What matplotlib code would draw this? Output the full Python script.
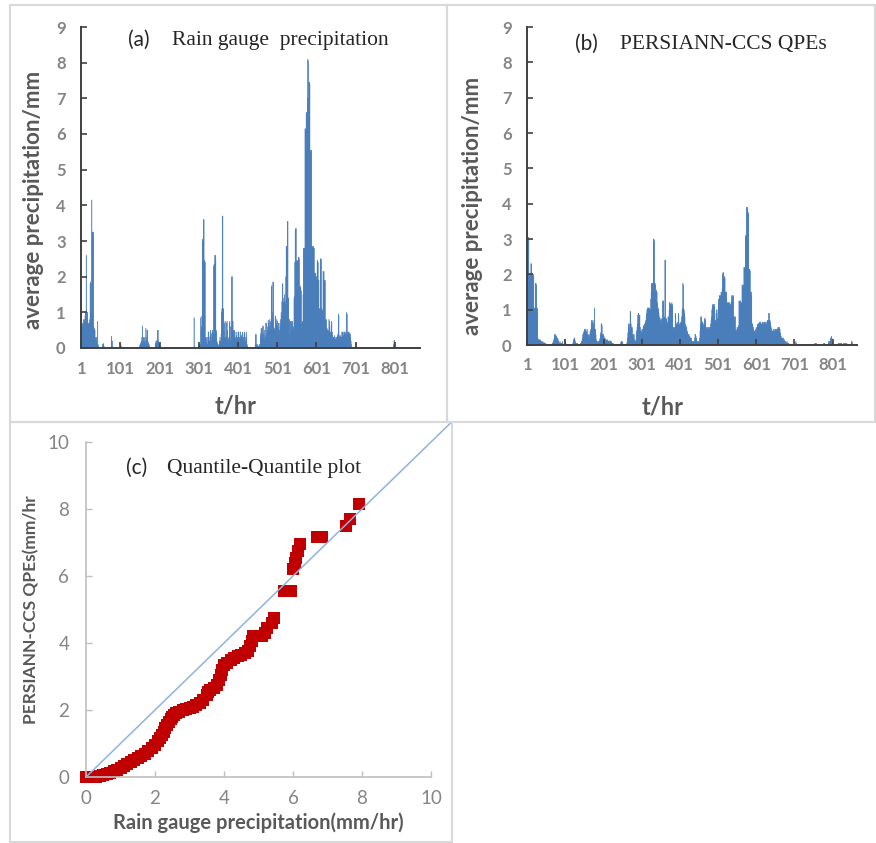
import numpy as np
import matplotlib.pyplot as plt
from matplotlib.patches import Rectangle

W, H = 876, 843
n_hours = 865
hour_ticks = [1, 101, 201, 301, 401, 501, 601, 701, 801]

# rain gauge hourly precipitation: (first hour, hourly values)
gauge_bands = [
    (1, [1.85, 1.8, 0.6, 0.65, 0.7, 0.6, 0.8, 0.75, 0.7, 0.8, 0.9, 1.0,
         1.0, 2.6, 1.0, 0.95, 1.0, 0.7, 0.65, 0.7, 0.65, 0.7, 0.8,
         1.8, 1.85, 1.8, 1.0, 4.15, 3.25, 3.25, 3.2, 3.25,
         0.6, 0.5, 0.55, 0.5, 0.3, 0.25, 0.2, 0.3, 0.2, 0.1, 0.75, 0.1, 0.05]),
    (55, [0.05, 0.1, 0.12, 0.12, 0.05]),
    (78, [0.33, 0.2, 0.2, 0.05]),
    (101, [0.1, 0.12, 0.05]),
    (150, [0.05, 0.1, 0.1, 0.15, 0.1, 0.2, 0.3, 0.62, 0.15, 0.1, 0.3, 0.2, 0.15,
           0.3, 0.2, 0.1, 0.55, 0.3, 0.2, 0.5, 0.5, 0.2, 0.15, 0.1, 0.1, 0.05]),
    (190, [0.1, 0.15, 0.2, 0.15, 0.2, 0.25, 0.5, 0.5, 0.2, 0.15, 0.1, 0.1, 0.05]),
    (289, [0.85]),
    (300, [0.05, 0.1, 0.1, 0.05, 0.1, 0.1, 0.85, 0.5, 0.6, 0.9]),
    (310, [3.0, 3.05, 3.0, 3.6, 3.6, 2.45, 2.45, 2.4, 0.3, 0.2]),
    (320, [0.3, 0.15, 0.1, 0.1, 0.3, 0.45, 0.45, 0.3, 0.2, 0.15]),
    (330, [0.35, 0.5, 0.3, 0.2, 0.4, 0.45, 0.5, 0.3, 0.4, 2.3]),
    (340, [2.35, 2.35, 2.6, 2.6, 2.5, 0.5, 0.45, 0.2, 0.15, 0.1]),
    (350, [0.05, 0.05, 0.1, 0.1, 0.2, 0.3, 0.2, 0.1, 0.4, 1.0]),
    (360, [1.1, 3.7, 3.7, 1.1, 1.1, 0.5, 0.3, 0.7, 0.75, 0.3]),
    (370, [0.25, 0.3, 0.7, 0.75, 0.5, 0.3, 0.25, 0.2, 0.3, 0.7]),
    (380, [0.75, 0.6, 0.2, 0.3, 0.6, 2.0, 2.0, 0.75, 0.75, 0.5]),
    (390, [0.45, 0.3, 0.5, 0.45, 0.25, 0.3, 0.25, 0.35, 0.45, 0.3]),
    (400, [0.25, 0.3, 0.45, 0.45, 0.3, 0.2, 0.3, 0.45, 0.25, 0.3, 0.35]),
    (411, [0.3, 0.45, 0.4, 0.3, 0.2, 0.3, 0.45, 0.4, 0.3, 0.2, 0.1, 0.45, 0.3, 0.1, 0.05]),
    (445, [0.1, 0.38, 0.38, 0.1, 0.05, 0.05, 0.1, 0.05, 0.05, 0.05]),
    (455, [0.1, 0.05, 0.1, 0.3, 0.4, 0.55, 0.55, 0.4, 0.3, 0.6]),
    (465, [0.62, 0.4, 0.3, 0.2, 0.5, 0.35, 0.3, 0.7, 0.7, 0.4]),
    (475, [0.3, 0.5, 0.6, 0.78, 0.7, 0.5, 0.6, 0.8, 0.75, 0.5]),
    (485, [0.7, 1.7, 1.75, 1.0, 0.8, 1.85, 1.85, 0.6, 0.5, 0.55]),
    (495, [0.4, 0.9, 0.88, 0.6, 0.7, 0.8, 0.75, 0.6, 0.4, 0.7]),
    (505, [0.6, 0.3, 0.5, 0.7, 0.6, 0.8, 1.0, 0.9, 1.3, 1.8]),
    (515, [1.8, 1.3, 1.25, 1.4, 1.3, 1.5, 1.3, 1.2, 2.0, 2.85]),
    (525, [2.85, 2.8, 3.55, 3.55, 1.4, 1.4, 0.75, 0.8, 0.4, 0.3]),
    (535, [0.75, 0.7, 0.75, 0.5, 0.6, 0.75, 0.55, 0.5, 0.6, 1.4]),
    (545, [1.45, 2.4, 3.3, 3.35, 3.35, 2.45, 2.4, 2.45, 2.45, 2.4]),
    (555, [2.55, 2.55, 2.5, 1.7, 1.75, 1.7, 1.7, 1.6, 0.7, 0.7]),
    (565, [0.75, 0.7, 1.5, 2.8, 2.75, 2.8, 2.8, 6.15, 6.1, 6.15]),
    (575, [6.6, 6.6, 6.55, 7.0, 8.1, 8.05, 7.0, 7.45, 7.45, 7.4]),
    (585, [5.55, 5.5, 5.5, 5.55, 2.85, 2.85, 2.8, 2.85, 2.85, 2.8]),
    (595, [2.8, 2.1, 2.1, 2.05, 2.1, 2.0, 1.9, 2.0, 2.45, 2.45]),
    (605, [2.4, 1.9, 1.9, 1.1, 1.1, 1.05, 2.5, 2.45, 2.5, 1.1]),
    (615, [1.1, 1.05, 1.0, 2.15, 2.1, 2.15, 1.9, 1.85, 1.9, 0.8]),
    (625, [0.75, 0.8, 0.55, 0.55, 0.5, 0.45, 0.5, 0.45, 0.8, 0.75]),
    (635, [0.6, 0.45, 0.4, 0.45, 0.75, 0.7, 0.45, 0.35, 0.3, 0.3]),
    (645, [0.25, 0.3, 0.35, 0.3, 0.25, 0.2, 0.3, 0.25, 0.3, 0.35]),
    (655, [0.3, 0.4, 0.95, 0.9, 0.35, 0.3, 0.3, 0.35, 0.3, 0.3]),
    (665, [0.3, 0.45, 0.45, 0.4, 0.3, 0.35, 0.45, 0.45, 0.4, 0.45]),
    (675, [0.4, 0.3, 0.35, 1.0, 0.95, 0.45, 0.4, 0.45, 0.4, 0.45]),
    (685, [0.4, 0.35, 0.4, 0.3, 0.2, 0.1]),
    (701, [0.1, 0.15, 0.05]),
    (798, [0.1, 0.2, 0.22, 0.1]),
]

# PERSIANN-CCS hourly estimates: (first hour, hourly values)
persiann_bands = [
    (1, [1.0, 2.0, 2.0, 3.05, 3.0, 2.0, 2.0, 1.95, 2.0, 2.0]),
    (11, [2.3, 2.3, 2.0, 2.0, 1.95, 2.0, 2.0, 1.95, 1.0, 1.05]),
    (21, [1.0, 1.05, 1.75, 1.75, 1.7, 1.05, 1.05, 1.0, 0.2, 0.15]),
    (31, [0.15, 0.15, 0.12, 0.15, 0.15, 0.1, 0.12, 0.1, 0.1, 0.08]),
    (41, [0.08, 0.1, 0.05, 0.05, 0.08, 0.05, 0.05, 0.03, 0.05, 0.03, 0.02, 0.02]),
    (65, [0.02, 0.03, 0.05, 0.05, 0.1, 0.1, 0.15, 0.2, 0.3, 0.28, 0.25, 0.3, 0.2, 0.25,
          0.2, 0.15, 0.2, 0.15, 0.1, 0.1, 0.05, 0.05, 0.1, 0.05, 0.03, 0.05, 0.03,
          0.05, 0.1, 0.05, 0.03]),
    (100, [0.15, 0.1, 0.05, 0.03]),
    (120, [0.03, 0.05, 0.1, 0.15, 0.2, 0.2, 0.15, 0.1, 0.05, 0.05, 0.03, 0.05, 0.05,
           0.03, 0.02, 0.02]),
    (140, [0.03, 0.05, 0.05, 0.1, 0.1, 0.15, 0.2, 0.3, 0.35, 0.3]),
    (150, [0.4, 0.45, 0.4, 0.45, 0.4, 0.3, 0.35, 0.4, 0.45, 0.3]),
    (160, [0.25, 0.2, 0.3, 0.25, 0.2, 0.3, 0.4, 0.35, 0.45, 0.6]),
    (170, [0.7, 0.7, 0.65, 0.5, 0.45, 0.6, 0.7, 1.05, 0.45, 0.4]),
    (180, [0.45, 0.3, 0.15, 0.1, 0.1, 0.05, 0.1, 0.05, 0.1, 0.1]),
    (190, [0.15, 0.1, 0.2, 0.3, 0.35, 0.6, 0.6, 0.55, 0.3, 0.25]),
    (200, [0.3, 0.3, 0.25, 0.2, 0.15, 0.2, 0.1, 0.15, 0.1, 0.15]),
    (210, [0.12, 0.15, 0.1, 0.1, 0.12, 0.1, 0.08, 0.1, 0.12, 0.1]),
    (220, [0.1, 0.08, 0.1, 0.05, 0.05, 0.03, 0.05, 0.03, 0.02, 0.02, 0.02]),
    (245, [0.03, 0.05, 0.1, 0.1, 0.08, 0.1, 0.05, 0.03]),
    (262, [0.05, 0.1, 0.2, 0.35, 0.5, 0.6, 0.6, 0.4, 0.55]),
    (271, [0.95, 0.95, 0.6, 0.5, 0.45, 0.5, 0.3, 0.25, 0.3, 0.2]),
    (281, [0.3, 0.15, 0.1, 0.1, 0.1, 0.15, 0.3, 0.4]),
    (289, [0.5, 0.6, 0.85, 0.9, 0.9, 0.85, 0.8, 0.85, 0.5]),
    (298, [0.4, 0.3, 0.35, 0.4, 0.45, 0.4, 0.45, 0.5, 0.55, 0.5, 0.6, 0.55, 0.6]),
    (311, [0.65, 0.7, 0.8, 0.9, 1.0, 1.05, 1.0, 1.0, 1.05]),
    (320, [1.05, 1.0, 1.05, 1.0, 1.0, 1.3, 1.5, 1.75, 1.7, 1.75]),
    (330, [1.75, 1.7, 3.0, 3.0, 2.95, 1.75]),
    (336, [1.75, 1.7, 1.55, 1.5, 1.55, 1.5, 1.2, 1.0, 1.05, 1.0]),
    (346, [0.9, 0.75, 0.8, 0.75, 0.7, 0.7, 0.75, 0.6, 0.7, 0.75]),
    (356, [1.25, 1.2, 1.25, 0.7, 0.75, 0.8]),
    (362, [2.4, 2.4, 0.75, 0.7, 0.75]),
    (367, [0.6, 0.65, 0.6, 0.8, 0.8, 0.75, 1.0, 1.2, 1.2, 1.15]),
    (377, [1.15, 1.1, 1.15, 1.2, 1.15, 1.1, 0.5, 0.5, 0.45, 0.5]),
    (387, [0.45, 0.5, 0.9, 0.85, 0.6, 0.55, 0.6, 0.65, 0.55, 0.6]),
    (397, [0.9, 0.85, 0.6, 0.55, 0.6, 0.65, 0.6, 0.55, 0.65, 0.8]),
    (407, [1.0, 1.05, 1.75, 1.7, 1.0, 1.0, 0.9, 0.8, 0.6, 0.5]),
    (417, [0.55, 0.45, 0.5, 0.4, 0.35, 0.3, 0.3, 0.25, 0.3, 0.2]),
    (427, [0.25, 0.2, 0.2, 0.15, 0.2, 0.15, 0.1, 0.1, 0.05, 0.1]),
    (437, [0.1, 0.05, 0.1, 0.2, 0.3, 0.3, 0.25, 0.2, 0.15, 0.1]),
    (447, [0.1, 0.05, 0.1, 0.1, 0.05, 0.1, 0.2, 0.4, 0.6, 0.8]),
    (457, [0.8, 0.75, 0.6, 0.65, 0.65, 0.6, 0.5, 0.55, 0.6, 0.75]),
    (467, [0.75, 0.7, 0.5, 0.45, 0.5, 0.45, 0.4, 0.5, 0.5, 0.45]),
    (477, [0.5, 0.45, 0.5, 0.45, 0.5, 0.6, 0.7, 0.8, 1.0, 1.1]),
    (487, [1.15, 1.1, 1.15, 1.1, 1.15, 1.1, 0.7, 0.65, 0.7, 0.9]),
    (497, [1.0, 0.9, 0.7, 0.75, 1.0]),
    (502, [1.3, 1.25, 1.3, 1.4, 1.4, 1.35, 1.4, 1.5, 1.45]),
    (511, [1.5, 1.6, 2.0, 2.05, 2.05, 1.9, 1.95, 1.9]),
    (519, [1.9, 1.5, 1.5, 1.45, 1.5, 1.2, 1.15, 1.2]),
    (527, [1.2, 1.15, 1.2, 1.2, 1.15, 1.2, 1.15, 1.1, 1.15, 1.2]),
    (537, [1.4, 1.35, 1.4, 1.35, 1.4, 0.8, 0.8, 0.75, 0.8, 0.8]),
    (547, [0.4, 0.45, 0.4, 0.4, 0.5, 0.45, 0.5, 0.5, 0.55]),
    (556, [1.25, 1.2, 1.25, 1.2, 1.25, 1.2, 1.15, 1.2, 1.7, 1.65]),
    (566, [1.7, 1.7, 1.65, 2.2, 2.15, 2.2, 2.2, 3.1, 3.05]),
    (575, [3.1, 3.9, 3.85, 3.9, 3.75, 3.75, 3.7, 2.15, 2.1, 2.15]),
    (585, [2.1, 1.5, 1.45, 1.5, 1.4, 0.6]),
    (591, [0.6, 0.55, 0.5, 0.45, 0.4, 0.35, 0.4, 0.35, 0.4, 0.45]),
    (601, [0.5, 0.45, 0.5, 0.55, 0.6, 0.55, 0.6, 0.6, 0.65, 0.6]),
    (611, [0.65, 0.6, 0.65, 0.6, 0.55, 0.6, 0.65, 0.6, 0.55, 0.6]),
    (621, [0.65, 0.6, 0.65, 0.6, 0.65, 0.6, 0.55, 0.6, 0.65, 0.7]),
    (631, [0.7, 0.65, 0.7, 0.9, 0.9, 0.7, 0.7, 0.65, 0.6, 0.5]),
    (641, [0.45, 0.4, 0.4, 0.35, 0.4, 0.45, 0.4, 0.35, 0.4, 0.45]),
    (651, [0.45, 0.4, 0.45, 0.4, 0.45, 0.4, 0.45, 0.5, 0.45, 0.5]),
    (661, [0.45, 0.5, 0.45, 0.35, 0.3, 0.25, 0.2, 0.2, 0.15, 0.2]),
    (671, [0.15, 0.2, 0.15, 0.1, 0.15, 0.1, 0.1, 0.05, 0.1, 0.05]),
    (681, [0.05, 0.1, 0.05, 0.05, 0.03, 0.05, 0.03, 0.02, 0.03, 0.02]),
    (704, [0.05, 0.1, 0.05]),
    (755, [0.05, 0.03, 0.05, 0.05, 0.03]),
    (778, [0.05, 0.03, 0.05, 0.03]),
    (790, [0.05, 0.1, 0.1, 0.05, 0.1, 0.15, 0.2, 0.15, 0.25, 0.2, 0.1, 0.05, 0.05]),
    (815, [0.03, 0.05, 0.03, 0.03, 0.05, 0.03, 0.05, 0.05, 0.03, 0.05, 0.03, 0.03]),
    (830, [0.05, 0.03, 0.03, 0.05, 0.03, 0.05, 0.03, 0.03, 0.05, 0.03]),
    (850, [0.05, 0.1, 0.1, 0.05]),
]

# quantile-quantile pairs (mm/hr)
qq_gauge = [0, 0.1, 0.2, 0.3, 0.4, 0.5, 0.6, 0.7, 0.8, 0.9,
            1.0, 1.1, 1.2, 1.3, 1.4, 1.5, 1.6, 1.7, 1.8, 1.9,
            2.0, 2.1, 2.15, 2.2, 2.25, 2.3, 2.35, 2.4, 2.45, 2.5,
            2.55, 2.6, 2.7, 2.8, 2.9, 3.0, 3.1, 3.2, 3.3, 3.4,
            3.5, 3.55, 3.6, 3.7, 3.8, 3.85, 3.9, 3.95, 4.0, 4.1,
            4.2, 4.3, 4.4, 4.5, 4.6, 4.7, 4.75, 4.8, 4.85, 5.1,
            5.2, 5.25, 5.4, 5.45, 5.75, 5.95, 6.0, 6.05, 6.1, 6.15,
            6.2, 6.7, 6.85, 7.55, 7.65, 7.9]
qq_persiann = [0, 0, 0, 0.01, 0.03, 0.05, 0.08, 0.12, 0.17, 0.22,
               0.28, 0.34, 0.4, 0.46, 0.52, 0.58, 0.64, 0.7, 0.78, 0.86,
               0.95, 1.08, 1.15, 1.25, 1.35, 1.45, 1.55, 1.65, 1.72, 1.8,
               1.85, 1.9, 1.95, 2.0, 2.03, 2.07, 2.1, 2.15, 2.2, 2.3,
               2.45, 2.55, 2.6, 2.65, 2.75, 2.9, 3.05, 3.2, 3.35, 3.4,
               3.48, 3.55, 3.6, 3.65, 3.7, 3.75, 3.9, 4.05, 4.2, 4.2,
               4.3, 4.45, 4.6, 4.75, 5.55, 5.55, 6.2, 6.4, 6.55, 6.75,
               6.95, 7.15, 7.15, 7.5, 7.7, 8.15]
one_to_one = [0, 10.6]


def hourly(bands):
    v = np.zeros(n_hours)
    for start, vals in bands:
        v[start - 1:start - 1 + len(vals)] = vals
    return v


def px(x, y):
    return x / W, 1 - y / H


TICK_C = '#858585'
LABEL_C = '#595959'
BAR_C = '#4a7ebb'
SANS = 'Lato'
SERIF = 'Liberation Serif'

fig = plt.figure(figsize=(W / 100, H / 100), dpi=100)

# light grey frames round the three panels
for x0, y0, x1, y1 in [(10, 5, 447, 422), (447, 5, 875, 422), (10, 422, 452, 842)]:
    fig.add_artist(Rectangle(px(x0, y1), (x1 - x0) / W, (y1 - y0) / H,
                             transform=fig.transFigure, fill=False,
                             edgecolor='#d9d9d9', linewidth=1.5))


def bar_panel(rect, bands, tag, title, tag_xy, title_xy, ylab_xy, xlab_xy):
    l, t, r, b = rect
    ax = fig.add_axes([l / W, 1 - b / H, (r - l) / W, (b - t) / H])
    hours = np.arange(1, n_hours + 1)
    bars = ax.bar(hours, hourly(bands), width=1.0, color=BAR_C,
                  edgecolor=BAR_C, linewidth=0.3)
    for p in bars:
        p.set_snap(False)
    ax.set_xlim(0.5, n_hours)
    ax.set_ylim(0, 9)
    ax.set_yticks(range(10))
    ax.set_xticks(hour_ticks)
    for s in ['top', 'right']:
        ax.spines[s].set_visible(False)
    for s in ['left', 'bottom']:
        ax.spines[s].set_color('#404040')
        ax.spines[s].set_linewidth(1.4)
        ax.spines[s].set_zorder(3)
    ax.tick_params(axis='both', direction='in', length=4, width=1.2,
                   color='#404040', labelcolor=TICK_C, labelsize=12)
    ax.tick_params(axis='y', pad=11)
    ax.tick_params(axis='x', pad=9)
    for lab in ax.get_xticklabels() + ax.get_yticklabels():
        lab.set_fontfamily(SANS)
        lab.set_fontweight('bold')
    ax.set_ylabel('average precipitation/mm', fontsize=16, fontweight='bold',
                  color=LABEL_C, family=SANS)
    ax.yaxis.set_label_coords(*ylab_xy)
    ax.set_xlabel('t/hr', fontsize=17, fontweight='bold', color=LABEL_C,
                  family=SANS)
    ax.xaxis.set_label_coords(*xlab_xy)
    fig.text(*px(*tag_xy), tag, fontsize=15, family=SANS, color='#262626',
             ha='left', va='center')
    fig.text(*px(*title_xy), title, fontsize=15.5, family=SERIF, color='#262626',
             ha='left', va='center')
    return ax


bar_panel((81, 27, 420, 348), gauge_bands, '(a)', 'Rain gauge  precipitation',
          (128, 40), (172, 40), (-0.108, 0.46), (0.455, -0.145))
bar_panel((527, 27, 857, 345), persiann_bands, '(b)', 'PERSIANN-CCS QPEs',
          (575, 44), (620, 44), (-0.133, 0.437), (0.41, -0.16))

# (c) quantile-quantile plot
l, t, r, b = 86, 442, 431, 777
axc = fig.add_axes([l / W, 1 - b / H, (r - l) / W, (b - t) / H])
axc.plot(one_to_one, one_to_one, color='#8db3e2', linewidth=1.1, clip_on=False,
         zorder=3)
axc.plot(qq_gauge, qq_persiann, linestyle='none', marker='s', markersize=8.5,
         color='#c00000', markeredgewidth=0, clip_on=False, zorder=2)
axc.set_xlim(0, 10)
axc.set_ylim(0, 10)
axc.set_xticks(range(0, 11, 2))
axc.set_yticks(range(0, 11, 2))
for s in ['top', 'right']:
    axc.spines[s].set_visible(False)
for s in ['left', 'bottom']:
    axc.spines[s].set_color('#bfbfbf')
    axc.spines[s].set_linewidth(1.2)
axc.tick_params(axis='both', direction='in', length=4, width=1.0,
                color='#bfbfbf', labelcolor=TICK_C, labelsize=13.5)
axc.tick_params(axis='y', pad=12)
axc.tick_params(axis='x', pad=9)
for lab in axc.get_xticklabels() + axc.get_yticklabels():
    lab.set_fontfamily(SANS)
axc.set_ylabel('PERSIANN-CCS QPEs(mm/hr', fontsize=12.5, fontweight='bold',
               color=LABEL_C, family=SANS, labelpad=6)
axc.set_xlabel('Rain gauge precipitation(mm/hr)', fontsize=14.5,
               fontweight='bold', color=LABEL_C, family=SANS, labelpad=4)
fig.text(*px(126, 468), '(c)', fontsize=15, family=SANS, color='#262626',
         ha='left', va='center')
fig.text(*px(167, 468), 'Quantile-Quantile plot', fontsize=15.5, family=SERIF,
         color='#262626', ha='left', va='center')

fig.savefig('out.png', dpi=100)
